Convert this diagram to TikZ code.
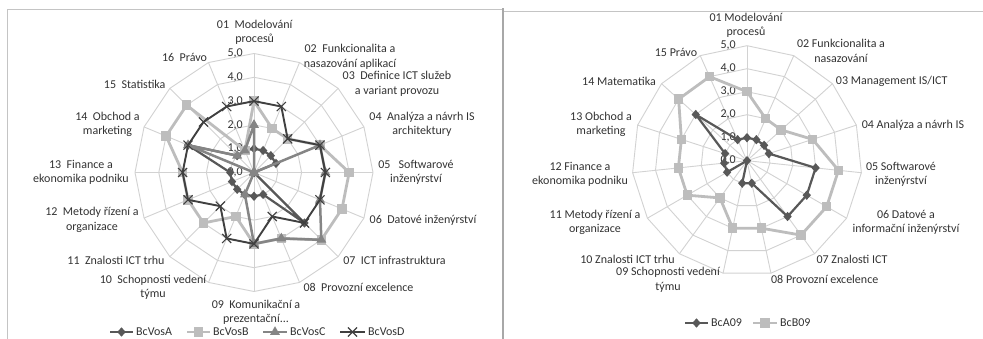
\documentclass[tikz,border=0pt]{standalone}
\usepackage{fontspec}
\setmainfont{Carlito}
\usetikzlibrary{shapes.geometric,shapes.misc}
\definecolor{gridc}{HTML}{D2D2D2}
\definecolor{framec}{HTML}{C4C4C4}
\definecolor{dividerc}{HTML}{A8A8A8}
\definecolor{txtc}{HTML}{333333}
\definecolor{serA}{HTML}{585858}
\definecolor{serB}{HTML}{BDBDBD}
\definecolor{serC}{HTML}{858585}
\definecolor{serD}{HTML}{404040}
\tikzset{
  gridline/.style={draw=gridc, line width=0.9pt},
  framebox/.style={draw=framec, line width=0.9pt},
  axlabel/.style={font=\fontsize{12}{14.5}\selectfont, text=txtc, align=center, inner sep=0pt},
  ticklabel/.style={font=\fontsize{12}{14}\selectfont, text=txtc, anchor=east, inner sep=0pt},
  legtext/.style={font=\fontsize{12}{14}\selectfont, text=txtc, anchor=west, inner sep=0pt},
  lineA/.style={draw=serA, line width=2.2pt, line join=round},
  lineB/.style={draw=serB, line width=2.8pt, line join=round},
  lineC/.style={draw=serC, line width=2.5pt, line join=round},
  lineD/.style={draw=serD, line width=1.9pt, line join=round},
  markA/.style={diamond, fill=serA, inner sep=0pt, minimum width=8.5pt, minimum height=9.5pt},
  markB/.style={rectangle, fill=serB, inner sep=0pt, minimum size=9.5pt},
  markC/.style={regular polygon, regular polygon sides=3, fill=serC, inner sep=0pt, minimum size=11.5pt},
  markD/.style={cross out, draw=serD, line width=1.1pt, inner sep=0pt, minimum size=8pt},
}
\begin{document}
\begin{tikzpicture}[x=1pt,y=1pt]
\useasboundingbox (0,0) rectangle (983,339);
\fill[white] (0,0) rectangle (983,339);

% chart frames
\draw[framebox] (7,-2) -- (7,330) -- (502,330);
\draw[framebox] (503,328) -- (985,328);
\draw[draw=dividerc, line width=2pt] (502.5,-2) -- (502.5,330.5);

% ---------------- left radar: 16 competences, four programmes ----------------
\begin{scope}[shift={(254,166.5)}]
  \def\u{23.8}
  \foreach \r in {1,...,5}
    \draw[gridline] (90:{\r*\u}) \foreach \k in {1,...,15}{ -- ({90-\k*22.5}:{\r*\u})} -- cycle;
  \foreach \k in {0,...,15}
    \draw[gridline] (0,0) -- ({90-\k*22.5}:{5*\u});
  \foreach \r in {0,...,5}
    \node[ticklabel] (lt\r) at (-11,{\r*\u}) {\r,0};

  \foreach \v [count=\i] in {1,1,1,1,0,0,3,1,1,1,1,1,1,3,1,1}
    \coordinate (LA\i) at ({90-(\i-1)*22.5}:{\v*\u});
  \foreach \v [count=\i] in {3,2,2,3,4,4,4,3,3,2,3,3,3,4,4,1}
    \coordinate (LB\i) at ({90-(\i-1)*22.5}:{\v*\u});
  \foreach \v [count=\i] in {2,0,0,3,3,3,4,3,3,1,0,0,0,3,1,1}
    \coordinate (LC\i) at ({90-(\i-1)*22.5}:{\v*\u});
  \foreach \v [count=\i] in {3,3,2,3,3,3,3,2,3,3,2,3,3,3,3,3}
    \coordinate (LD\i) at ({90-(\i-1)*22.5}:{\v*\u});

  \draw[lineA] (LA1) \foreach \i in {2,...,16}{ -- (LA\i)} -- cycle;
  \foreach \i in {1,...,16} \node[markA] (mLA\i) at (LA\i) {};
  \draw[lineB] (LB1) \foreach \i in {2,...,16}{ -- (LB\i)} -- cycle;
  \foreach \i in {1,...,16} \node[markB] (mLB\i) at (LB\i) {};
  \draw[lineC] (LC1) \foreach \i in {2,...,16}{ -- (LC\i)} -- cycle;
  \foreach \i in {1,...,16} \node[markC] (mLC\i) at (LC\i) {};
  \draw[lineD] (LD1) \foreach \i in {2,...,16}{ -- (LD\i)} -- cycle;
  \foreach \i in {1,...,16} \node[markD] (mLD\i) at (LD\i) {};
\end{scope}

\node[axlabel] (l01) at (254.7,306.5) {01\ \ Modelování\\procesů};
\node[axlabel] (l02) at (350,282) {02\ \ Funkcionalita a\\nasazování aplikací};
\node[axlabel] (l03) at (397,255) {03\ \ Definice ICT služeb\\a variant provozu};
\node[axlabel] (l04) at (422,214.5) {04\ \ Analýza a návrh IS\\architektury};
\node[axlabel] (l05) at (416,166.5) {05\ \ \ Softwarové\\inženýrství};
\node[axlabel] (l06) at (423,119) {06\ \ Datové inženýrství};
\node[axlabel] (l07) at (394.5,79) {07\ \ ICT infrastruktura};
\node[axlabel] (l08) at (358.5,52) {08\ \ Provozní excelence};
\node[axlabel] (l09) at (256,26.5) {09\ \ Komunikační a\\prezentační...};
\node[axlabel] (l10) at (153,51.5) {10\ \ Schopnosti vedení\\týmu};
\node[axlabel] (l11) at (116,79) {11\ \ Znalosti ICT trhu};
\node[axlabel] (l12) at (92,119) {12\ \ Metody řízení a\\organizace};
\node[axlabel] (l13) at (81,166.5) {13\ \ Finance a\\ekonomika podniku};
\node[axlabel] (l14) at (107.5,214.5) {14\ \ Obchod a\\marketing};
\node[axlabel] (l15) at (134.7,255) {15\ \ Statistika};
\node[axlabel] (l16) at (184.5,282) {16\ \ Právo};

% legend of the left radar
\coordinate (lgA1) at (110,7); \coordinate (lgA2) at (133,7);
\draw[lineA] (lgA1) -- (lgA2); \node[markA] (lgAm) at (121.5,7) {};
\node[legtext] (lgAt) at (136,7) {BcVosA};
\coordinate (lgB1) at (187,7); \coordinate (lgB2) at (210,7);
\draw[lineB] (lgB1) -- (lgB2); \node[markB] (lgBm) at (198.5,7) {};
\node[legtext] (lgBt) at (213,7) {BcVosB};
\coordinate (lgC1) at (263,7); \coordinate (lgC2) at (287,7);
\draw[lineC] (lgC1) -- (lgC2); \node[markC] (lgCm) at (275,7) {};
\node[legtext] (lgCt) at (290,7) {BcVosC};
\coordinate (lgD1) at (340,7); \coordinate (lgD2) at (365,7);
\draw[lineD] (lgD1) -- (lgD2); \node[markD] (lgDm) at (352.5,7) {};
\node[legtext] (lgDt) at (368,7) {BcVosD};

% ---------------- right radar: 15 competences, two programmes ----------------
\begin{scope}[shift={(747,178.3)}]
  \def\u{23}
  \foreach \r in {1,...,5}
    \draw[gridline] (90:{\r*\u}) \foreach \k in {1,...,14}{ -- ({90-\k*24}:{\r*\u})} -- cycle;
  \foreach \k in {0,...,14}
    \draw[gridline] (0,0) -- ({90-\k*24}:{5*\u});
  \foreach \r in {0,...,5}
    \node[ticklabel] (rt\r) at (-11,{\r*\u}) {\r,0};

  \foreach \v [count=\i] in {1,1,1,1,3,3,3,1,1,0,1,1,1,3,1}
    \coordinate (RA\i) at ({90-(\i-1)*24}:{\v*\u});
  \foreach \v [count=\i] in {3,2,2,3,4,4,4,3,3,2,3,3,3,4,4}
    \coordinate (RB\i) at ({90-(\i-1)*24}:{\v*\u});

  \draw[lineA] (RA1) \foreach \i in {2,...,15}{ -- (RA\i)} -- cycle;
  \foreach \i in {1,...,15} \node[markA] (mRA\i) at (RA\i) {};
  \draw[lineB] (RB1) \foreach \i in {2,...,15}{ -- (RB\i)} -- cycle;
  \foreach \i in {1,...,15} \node[markB] (mRB\i) at (RB\i) {};
\end{scope}

\node[axlabel] (r01) at (746,313.5) {01 Modelování\\procesů};
\node[axlabel] (r02) at (841,288) {02 Funkcionalita a\\nasazování};
\node[axlabel] (r03) at (891.7,258) {03 Management IS/ICT};
\node[axlabel] (r04) at (913,214) {04 Analýza a návrh IS};
\node[axlabel] (r05) at (901,164.5) {05 Softwarové\\inženýrství};
\node[axlabel] (r06) at (906,116.5) {06 Datové a\\informační inženýrství};
\node[axlabel] (r07) at (852,80) {07 Znalosti ICT};
\node[axlabel] (r08) at (824.7,60) {08 Provozní excelence};
\node[axlabel] (r09) at (668,59) {09 Schopnosti vedení\\týmu};
\node[axlabel] (r10) at (627.5,80) {10 Znalosti ICT trhu};
\node[axlabel] (r11) at (595,116.5) {11 Metody řízení a\\organizace};
\node[axlabel] (r12) at (580,164.5) {12 Finance a\\ekonomika podniku};
\node[axlabel] (r13) at (601,214.5) {13 Obchod a\\marketing};
\node[axlabel] (r14) at (619,258) {14 Matematika};
\node[axlabel] (r15) at (676,287) {15 Právo};

% legend of the right radar
\coordinate (rgA1) at (685,16); \coordinate (rgA2) at (708,16);
\draw[lineA] (rgA1) -- (rgA2); \node[markA] (rgAm) at (696.5,16) {};
\node[legtext] (rgAt) at (711,16) {BcA09};
\coordinate (rgB1) at (753,16); \coordinate (rgB2) at (777,16);
\draw[lineB] (rgB1) -- (rgB2); \node[markB] (rgBm) at (765,16) {};
\node[legtext] (rgBt) at (780,16) {BcB09};
\end{tikzpicture}
\end{document}
